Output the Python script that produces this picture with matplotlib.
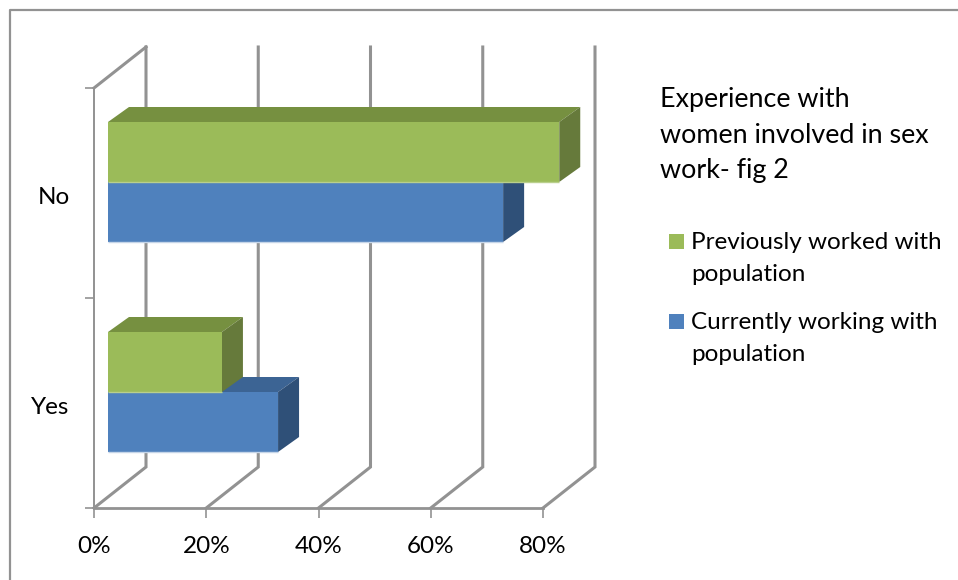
import numpy as np
import matplotlib
matplotlib.use('Agg')
import matplotlib.pyplot as plt
from matplotlib.patches import Rectangle
from matplotlib.lines import Line2D

## Data
categories = ['Yes', 'No']
previously = [20.3, 80.4]
currently = [30.3, 70.4]
x_ticks = [0, 20, 40, 60, 80]
x_tick_labels = ['0%', '20%', '40%', '60%', '80%']
title_text = 'Experience with\nwomen involved in sex\nwork- fig 2'
label_prev = 'Previously worked with\npopulation'
label_curr = 'Currently working with\npopulation'

## Colours
GREY = '#929292'
GREEN = ('#9BBB59', '#769040', '#667A3B', '#B9CF8C')  # front, top, side, lower edge
BLUE = ('#4F81BD', '#3C6494', '#2F5078', '#C5D5E8')

W, H = 958, 580
plt.rcParams['font.family'] = ['Lato', 'DejaVu Sans']
FS = 17.5
FS_TITLE = 19.4

fig = plt.figure(figsize=(W / 100, H / 100), dpi=100)
ax = fig.add_axes([94 / W, (H - 508) / H, 449 / W, 420 / H])
ax.set_xlim(0, 80)
ax.set_ylim(0, 2)
ax.patch.set_visible(False)

# px -> data units
ux = 80 / 449
uy = 2 / 420
wall_dx, wall_dy = 52 * ux, 41 * uy
shift_dx, shift_dy = 14 * ux, 11 * uy
depth_dx, depth_dy = 21 * ux, 15 * uy
bar_h = 60 * uy
y_pos = np.arange(len(categories)) + 0.5


def draw_bar(value, y_bottom, cols):
    x0 = shift_dx
    x1 = shift_dx + value
    y0 = y_bottom + shift_dy
    y1 = y0 + bar_h
    ax.fill([x0, x1, x1 + depth_dx, x0 + depth_dx], [y1, y1, y1 + depth_dy, y1 + depth_dy],
            color=cols[1], lw=0, zorder=3, clip_on=False)
    ax.fill([x1, x1 + depth_dx, x1 + depth_dx, x1], [y0, y0 + depth_dy, y1 + depth_dy, y1],
            color=cols[2], lw=0, zorder=3, clip_on=False)
    ax.fill([x0, x1, x1, x0], [y0, y0, y1, y1], color=cols[0], lw=0, zorder=3, clip_on=False)
    ax.plot([x0, x1], [y0, y0], color=cols[3], lw=1, zorder=3, clip_on=False, solid_capstyle='butt')


# walls and gridlines
for t in x_ticks:
    ax.plot([t, t + wall_dx, t + wall_dx], [0, wall_dy, 2 + wall_dy], color=GREY, lw=2.2,
            clip_on=False, zorder=1, solid_joinstyle='miter')
ax.plot([0, wall_dx], [2, 2 + wall_dy], color=GREY, lw=2.2, clip_on=False, zorder=1)

# bars, blue first because green sits behind its top face
for i in range(len(categories)):
    draw_bar(currently[i], y_pos[i] - bar_h, BLUE)
    draw_bar(previously[i], y_pos[i], GREEN)

# axes
for s in ['top', 'right']:
    ax.spines[s].set_visible(False)
ax.spines['left'].set_color(GREY)
ax.spines['left'].set_linewidth(1.4)
ax.spines['bottom'].set_color(GREY)
ax.spines['bottom'].set_linewidth(2.0)
ax.set_xticks(x_ticks)
ax.set_xticklabels(x_tick_labels, fontsize=FS, color='black')
ax.tick_params(axis='x', length=7.5, width=1.2, color=GREY, pad=12.5)
ax.set_yticks([0, 1, 2])
ax.set_yticklabels([])
ax.tick_params(axis='y', which='major', length=6.5, width=1.2, color=GREY)
ax.set_yticks(y_pos - 2.5 * uy, minor=True)
ax.set_yticklabels(categories, minor=True, fontsize=FS, color='black')
ax.tick_params(axis='y', which='minor', length=0, pad=17.5)

# chart border (left and top only)
fig.add_artist(Line2D([10 / W, 10 / W, 1], [0, 1 - 10 / H, 1 - 10 / H], color=GREY, lw=1.6))

# title and legend
fig.text(660 / W, 1 - 87 / H, title_text, fontsize=FS_TITLE, color='black', va='top', ha='left', linespacing=1.53)
for y_sq, col, lab in [(234, GREEN[0], label_prev), (314, BLUE[0], label_curr)]:
    fig.add_artist(Rectangle((669 / W, 1 - (y_sq + 15) / H), 15 / W, 15 / H, color=col, lw=0,
                             transform=fig.transFigure))
    fig.text(691 / W, 1 - (y_sq - 2) / H, lab, fontsize=FS, color='black', va='top', ha='left', linespacing=1.62)

fig.savefig('out.png', dpi=100)
